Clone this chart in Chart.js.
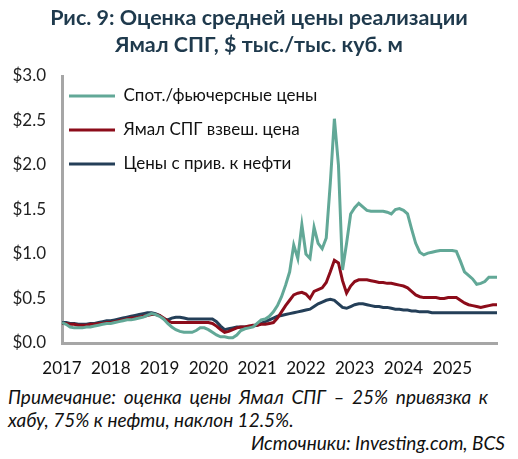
<!DOCTYPE html>
<html>
<head>
<meta charset="utf-8">
<script src="https://cdn.jsdelivr.net/npm/chart.js@4/dist/chart.umd.min.js"></script>
<style>
  html, body { margin: 0; padding: 0; background: #fff; }
  body { width: 518px; height: 459px; position: relative; overflow: hidden; font-family: Lato, "Open Sans", sans-serif; }
  #title { position: absolute; left: 0; top: 4px; width: 518px; text-align: center; color: #1f3a4d; font-weight: bold; font-size: 21.5px; line-height: 27px; }
  #wrap { position: absolute; left: 0; top: 0; width: 518px; height: 385px; }
  .note { position: absolute; left: 8px; font-style: italic; font-size: 19px; line-height: 23px; color: #111; white-space: nowrap; }
  #note1 { top: 385px; width: 480px; text-align: justify; text-align-last: justify; white-space: normal; }
  #note2 { top: 408px; }
  #src { left: auto; right: 13px; top: 431px; }
</style>
</head>
<body>
<div id="wrap"><canvas id="c" width="518" height="385"></canvas></div>
<div id="title">Рис. 9: Оценка средней цены реализации<br>Ямал СПГ, $ тыс./тыс. куб. м</div>
<div class="note" id="note1">Примечание: оценка цены Ямал СПГ – 25% привязка к</div>
<div class="note" id="note2">хабу, 75% к нефти, наклон 12.5%.</div>
<div class="note" id="src">Источники: Investing.com, BCS</div>
<script>
const years = [2017, 2018, 2019, 2020, 2021, 2022, 2023, 2024, 2025];
const months = ['01','02','03','04','05','06','07','08','09','10','11','12'];
const categories = [];
years.forEach(y => months.forEach(m => categories.push(y + '-' + m)));

const seriesNames = ['Спот./фьючерсные цены', 'Ямал СПГ взвеш. цена', 'Цены с прив. к нефти'];

const spotPrices = [
  0.23,0.21,0.18,0.17,0.17,0.17,0.18,0.18,0.19,0.20,0.21,0.22,
  0.22,0.23,0.24,0.25,0.26,0.26,0.27,0.28,0.29,0.31,0.33,0.32,
  0.30,0.27,0.22,0.18,0.15,0.13,0.12,0.12,0.12,0.14,0.17,0.17,
  0.15,0.12,0.09,0.07,0.07,0.06,0.06,0.09,0.14,0.16,0.17,0.18,
  0.22,0.26,0.27,0.30,0.35,0.42,0.52,0.65,0.80,1.10,0.95,1.33,
  1.00,0.95,1.30,1.12,1.06,1.18,1.80,2.52,2.00,0.82,1.12,1.45,
  1.52,1.57,1.53,1.49,1.48,1.48,1.48,1.48,1.47,1.45,1.50,1.51,
  1.49,1.45,1.28,1.12,1.02,0.99,1.01,1.02,1.03,1.04,1.04,1.04,
  1.04,1.03,0.92,0.80,0.76,0.72,0.66,0.67,0.69,0.74,0.74,0.74
];
const yamalWeighted = [
  0.22,0.22,0.21,0.21,0.20,0.20,0.20,0.21,0.21,0.22,0.22,0.23,
  0.23,0.24,0.25,0.26,0.27,0.28,0.28,0.29,0.30,0.31,0.32,0.32,
  0.31,0.28,0.25,0.23,0.23,0.23,0.23,0.23,0.23,0.23,0.23,0.23,
  0.23,0.22,0.19,0.15,0.12,0.13,0.15,0.17,0.18,0.18,0.19,0.20,
  0.20,0.21,0.21,0.22,0.23,0.28,0.35,0.42,0.48,0.54,0.56,0.57,
  0.55,0.50,0.58,0.60,0.62,0.68,0.80,0.93,0.90,0.70,0.56,0.64,
  0.69,0.71,0.71,0.71,0.70,0.69,0.68,0.68,0.67,0.67,0.66,0.65,
  0.64,0.62,0.58,0.54,0.52,0.51,0.51,0.51,0.51,0.50,0.50,0.51,
  0.51,0.51,0.48,0.45,0.43,0.42,0.41,0.40,0.41,0.42,0.43,0.43
];
const oilLinked = [
  0.23,0.23,0.22,0.22,0.21,0.21,0.21,0.22,0.22,0.23,0.24,0.25,
  0.25,0.26,0.27,0.28,0.29,0.30,0.31,0.32,0.33,0.34,0.34,0.33,
  0.31,0.27,0.26,0.28,0.29,0.29,0.28,0.27,0.27,0.27,0.27,0.27,
  0.27,0.27,0.24,0.19,0.15,0.16,0.17,0.18,0.18,0.18,0.18,0.19,
  0.20,0.22,0.24,0.26,0.28,0.30,0.31,0.32,0.33,0.34,0.35,0.36,
  0.37,0.38,0.41,0.44,0.46,0.48,0.49,0.48,0.44,0.40,0.39,0.41,
  0.43,0.44,0.44,0.43,0.42,0.41,0.41,0.40,0.40,0.39,0.38,0.38,
  0.37,0.37,0.36,0.36,0.35,0.35,0.35,0.34,0.34,0.34,0.34,0.34,
  0.34,0.34,0.34,0.34,0.34,0.34,0.34,0.34,0.34,0.34,0.34,0.34
];
const yTicks = [0, 0.5, 1.0, 1.5, 2.0, 2.5, 3.0];

const colors = ['#62a897', '#8c0c1a', '#243f58'];
const allSeries = [spotPrices, yamalWeighted, oilLinked];

const legendPlace = {
  id: 'legendPlace',
  afterLayout(chart) {
    const lg = chart.legend;
    if (lg) {
      lg.left = chart.chartArea.left - 10;
      lg.top = chart.chartArea.top - 5.5;
    }
  }
};

new Chart(document.getElementById('c'), {
  type: 'line',
  data: {
    labels: categories,
    datasets: allSeries.map((d, i) => ({
      label: seriesNames[i],
      data: d,
      borderColor: colors[i],
      backgroundColor: colors[i],
      borderWidth: 3,
      pointRadius: 0,
      tension: 0,
      fill: false
    }))
  },
  options: {
    responsive: false,
    animation: false,
    devicePixelRatio: 1,
    layout: { padding: { left: 0, right: 21, top: 76, bottom: 0 } },
    plugins: {
      title: { display: false },
      tooltip: { enabled: false },
      legend: {
        position: 'chartArea',
        align: 'start',
        labels: {
          usePointStyle: true,
          pointStyle: 'line',
          pointStyleWidth: 46,
          padding: 17,
          color: '#111',
          font: { family: 'Lato, "Open Sans", sans-serif', size: 17 }
        }
      }
    },
    scales: {
      x: {
        type: 'category',
        offset: false,
        grid: { display: false, drawTicks: false },
        border: { display: true, color: '#a6a6a6', width: 3 },
        ticks: {
          autoSkip: false,
          maxRotation: 0,
          minRotation: 0,
          padding: 15,
          color: '#111',
          font: { family: 'Lato, "Open Sans", sans-serif', size: 17 },
          callback: function(v, idx) {
            const lab = categories[idx];
            return lab.endsWith('-01') ? lab.slice(0, 4) : '';
          }
        },
        afterFit(scale) { scale.height = 42; }
      },
      y: {
        min: 0,
        max: 3,
        grid: { display: false, drawTicks: false },
        border: { display: true, color: '#a6a6a6', width: 3 },
        afterBuildTicks(scale) { scale.ticks = yTicks.map(v => ({ value: v })); },
        ticks: {
          padding: 16,
          color: '#222',
          font: { family: 'Lato, "Open Sans", sans-serif', size: 17 },
          callback: v => '$' + Number(v).toFixed(1)
        },
        afterFit(scale) { scale.width = 62; }
      }
    }
  },
  plugins: [legendPlace]
});
</script>
</body>
</html>
